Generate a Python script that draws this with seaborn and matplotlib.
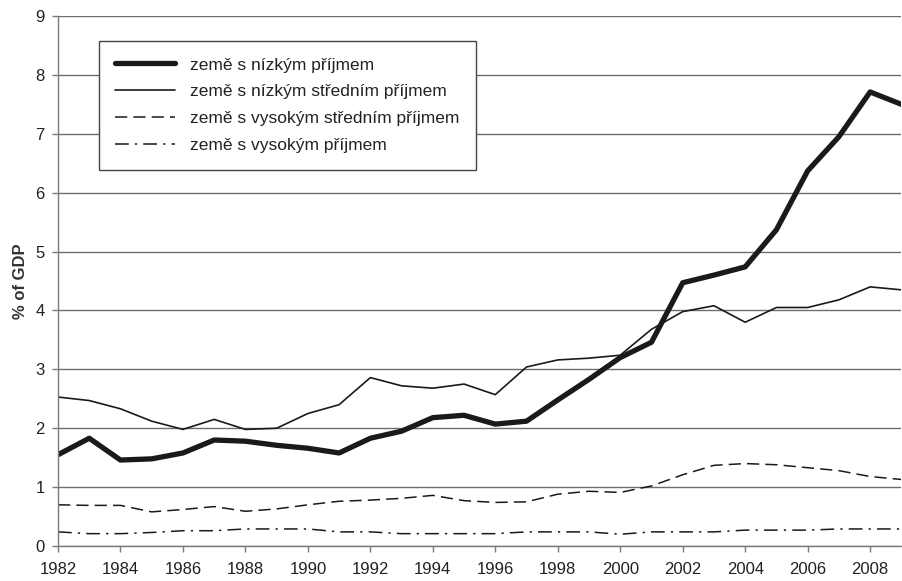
import numpy as np
import pandas as pd
import matplotlib
matplotlib.use("Agg")
import matplotlib.pyplot as plt
import seaborn as sns

# Data
years = list(range(1982, 2010))
low_income = [1.55, 1.83, 1.46, 1.48, 1.58, 1.80, 1.78, 1.71, 1.66, 1.58,
              1.83, 1.95, 2.18, 2.22, 2.07, 2.12, 2.48, 2.83, 3.20, 3.46,
              4.47, 4.60, 4.74, 5.37, 6.37, 6.95, 7.71, 7.50]
lower_middle = [2.53, 2.47, 2.33, 2.12, 1.98, 2.15, 1.98, 2.00, 2.25, 2.40,
                2.86, 2.72, 2.68, 2.75, 2.57, 3.04, 3.16, 3.19, 3.24, 3.68,
                3.98, 4.08, 3.80, 4.05, 4.05, 4.18, 4.40, 4.35]
upper_middle = [0.70, 0.69, 0.69, 0.58, 0.62, 0.67, 0.59, 0.63, 0.70, 0.76,
                0.78, 0.81, 0.86, 0.77, 0.74, 0.75, 0.88, 0.93, 0.91, 1.02,
                1.21, 1.37, 1.40, 1.38, 1.33, 1.28, 1.18, 1.13]
high_income = [0.24, 0.21, 0.21, 0.23, 0.26, 0.26, 0.29, 0.29, 0.29, 0.24,
               0.24, 0.21, 0.21, 0.21, 0.21, 0.24, 0.24, 0.24, 0.20, 0.24,
               0.24, 0.24, 0.27, 0.27, 0.27, 0.29, 0.29, 0.29]
labels = ["země s nízkým příjmem", "země s nízkým středním příjmem",
          "země s vysokým středním příjmem", "země s vysokým příjmem"]
x_ticks = list(range(1982, 2009, 2))
y_ticks = list(range(0, 10))

sns.set_style("white")
plt.rcParams['font.family'] = ['Liberation Sans', 'DejaVu Sans']

fig = plt.figure(figsize=(9.02, 5.81), dpi=100)
ax = fig.add_axes([0.0643, 0.0602, 0.935, 0.9123])

ink = "#1a1a1a"
sns.lineplot(x=years, y=low_income, ax=ax, color=ink, linewidth=3.8,
             label=labels[0])
sns.lineplot(x=years, y=lower_middle, ax=ax, color=ink, linewidth=1.2,
             label=labels[1])
sns.lineplot(x=years, y=upper_middle, ax=ax, color=ink, linewidth=1.1,
             linestyle=(0, (8, 4)), label=labels[2])
sns.lineplot(x=years, y=high_income, ax=ax, color=ink, linewidth=1.1,
             linestyle=(0, (9, 4, 1.5, 4)), label=labels[3])

ax.set_xlim(1982, 2009)
ax.set_ylim(0, 9)
ax.set_xticks(x_ticks)
ax.set_yticks(y_ticks)
ax.yaxis.grid(True, color="#6e6e6e", linewidth=1.0)
ax.set_axisbelow(True)

for side in ["top", "right"]:
    ax.spines[side].set_visible(False)
for side in ["left", "bottom"]:
    ax.spines[side].set_color("#7a7a7a")
    ax.spines[side].set_linewidth(1.0)

ax.tick_params(axis="both", which="major", direction="out", length=4.5,
               width=1.0, color="#7a7a7a", labelsize=12, labelcolor="#222222",
               left=True, bottom=True)
ax.tick_params(axis="x", pad=7)
ax.tick_params(axis="y", pad=5)
ax.set_xlabel("")
ax.set_ylabel("% of GDP", fontsize=12, fontweight="bold", color="#333333",
              labelpad=5)

leg = ax.legend(loc="upper left", bbox_to_anchor=(0.0486, 0.953),
                borderaxespad=0, fancybox=False, framealpha=1,
                edgecolor="#444444", fontsize=12.5, handlelength=3.4,
                handletextpad=0.9, labelspacing=0.68, borderpad=0.95)
leg.get_frame().set_linewidth(1.0)
for text in leg.get_texts():
    text.set_color("#222222")

fig.savefig("out.png", dpi=100)
